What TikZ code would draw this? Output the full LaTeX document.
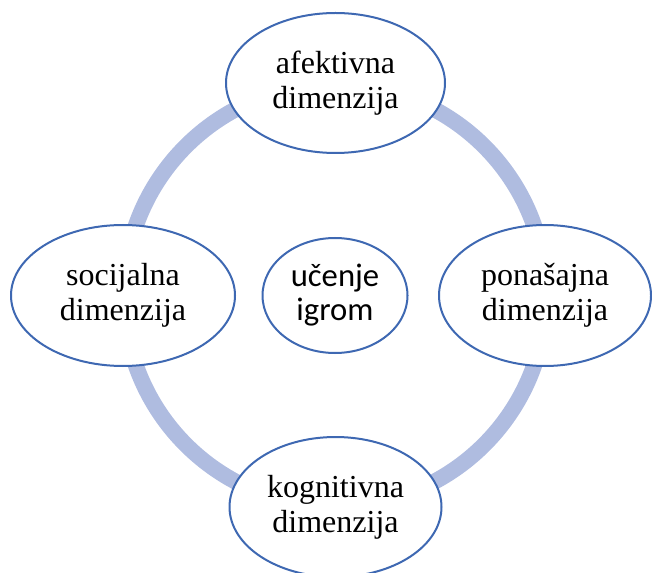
\documentclass[tikz,border=0pt]{standalone}
\usepackage{fontspec}
\newfontfamily\dimfont{Liberation Serif}
\newfontfamily\igrafont{Carlito}
\usetikzlibrary{shapes.geometric}
\definecolor{ringblue}{RGB}{175,188,224}
\definecolor{rimblue}{RGB}{62,104,178}
\begin{document}
\begin{tikzpicture}[x=0.75pt, y=-0.75pt, line join=round, line cap=round,
	dim/.style={ellipse, draw=rimblue, line width=1.5pt, fill=white, inner sep=0pt, align=center,
		font=\dimfont\fontsize{24}{26.5}\selectfont}]
	\useasboundingbox (0,0) rectangle (652,573);
	\path
	(335,295.5) coordinate (O);
	\draw[ringblue, line width=12pt] (O) circle (158.25pt);
	\node[dim, minimum width=164.25pt, minimum height=105pt] (A) at (335.5,83) {afektivna\\dimenzija};
	\node[dim, minimum width=168pt, minimum height=105.75pt] (B) at (123,295.5) {socijalna\\dimenzija};
	\node[dim, minimum width=159pt, minimum height=105.75pt] (C) at (545,295.5) {ponašajna\\dimenzija};
	\node[dim, minimum width=159pt, minimum height=105pt] (D) at (335.5,507) {kognitivna\\dimenzija};
	\node[dim, minimum width=108.75pt, minimum height=86.25pt, font=\igrafont\fontsize{24.5}{25.5}\selectfont] (E) at (O) {učenje\\igrom};
\end{tikzpicture}
\end{document}
